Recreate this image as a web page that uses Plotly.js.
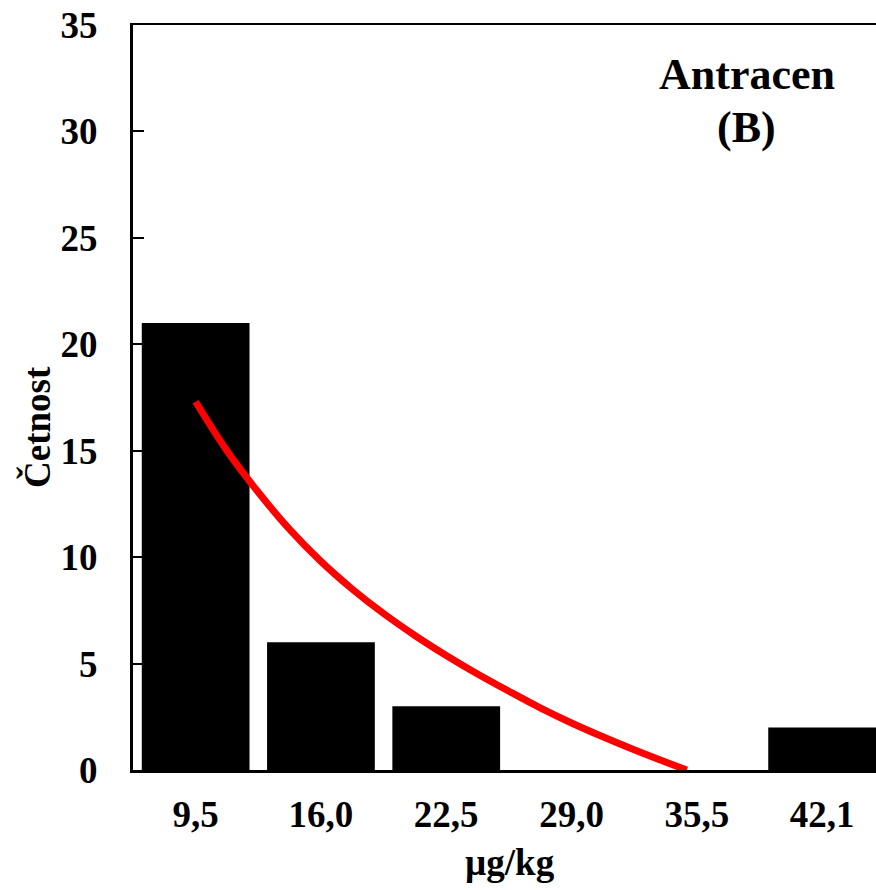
<!DOCTYPE html>
<html>
<head>
<meta charset="utf-8">
<script src="https://cdn.plot.ly/plotly-3.0.1.min.js"></script>
<style>html,body{margin:0;padding:0;background:#fff;overflow:hidden}</style>
</head>
<body>
<div id="chart" style="width:876px;height:890px"></div>
<script>
// Histogram categories (bin centres, µg/kg) and counts
const binLabels = ["9,5", "16,0", "22,5", "29,0", "35,5", "42,1"];
const counts = [21, 6, 3, 0, 0, 2];
// Fitted curve (x in bin-index units, y = frequency)
const curveX = [0, 0.25, 0.5, 0.75, 1.0, 1.25, 1.5, 1.75, 2.0, 2.25, 2.5, 2.75, 3.0, 3.25, 3.5, 3.75, 3.92];
const curveY = [17.30, 15.00, 13.05, 11.30, 9.80, 8.50, 7.35, 6.32, 5.38, 4.51, 3.70, 2.92, 2.21, 1.56, 0.95, 0.375, 0.0];

const binIdx = binLabels.map((_, i) => i);
const font = "Liberation Serif, Times New Roman, serif";

const traces = [
  {
    type: "bar",
    x: binIdx,
    y: counts,
    width: 0.86,
    marker: {color: "#000000", line: {width: 0}},
    hoverinfo: "skip"
  },
  {
    type: "scatter",
    mode: "lines",
    x: curveX,
    y: curveY,
    line: {color: "#ff0000", width: 7, shape: "spline", smoothing: 1},
    hoverinfo: "skip"
  }
];

const layout = {
  width: 876,
  height: 890,
  margin: {l: 133, r: 0, t: 25, b: 120},
  paper_bgcolor: "#fff",
  plot_bgcolor: "#fff",
  showlegend: false,
  font: {family: font, color: "#000", size: 37, weight: "bold"},
  xaxis: {
    range: [-0.5, 5.43],
    tickvals: binIdx,
    ticktext: binLabels,
    ticks: "",
    showgrid: false,
    zeroline: false,
    showline: true,
    linecolor: "#000",
    linewidth: 2.5,
    mirror: true,
    ticklabelstandoff: 10,
    tickfont: {family: font, size: 37, color: "#000", weight: "bold"}
  },
  yaxis: {
    range: [0, 35],
    tick0: 0,
    dtick: 5,
    ticks: "inside",
    ticklen: 11,
    tickwidth: 2,
    tickcolor: "#000",
    showgrid: false,
    zeroline: false,
    showline: true,
    linecolor: "#000",
    linewidth: 3,
    mirror: false,
    ticklabelstandoff: 25,
    tickfont: {family: font, size: 37, color: "#000", weight: "bold"}
  },
  annotations: [
    {text: "Antracen", xref: "paper", yref: "paper", x: 0.826, y: (770 - 74) / 745,
     xanchor: "center", yanchor: "middle", showarrow: false,
     font: {family: font, size: 44, color: "#000", weight: "bold"}},
    {text: "(B)", xref: "paper", yref: "paper", x: 0.826, y: (770 - 128) / 745,
     xanchor: "center", yanchor: "middle", showarrow: false,
     font: {family: font, size: 44, color: "#000", weight: "bold"}},
    {text: "Četnost", xref: "paper", yref: "paper", x: (37 - 133) / 743, y: (770 - 427) / 745,
     xanchor: "center", yanchor: "middle", textangle: -90, showarrow: false,
     font: {family: font, size: 37, color: "#000", weight: "bold"}},
    {text: "µg/kg", xref: "paper", yref: "paper", x: (510 - 133) / 743, y: (770 - 862) / 745,
     xanchor: "center", yanchor: "middle", showarrow: false,
     font: {family: font, size: 37, color: "#000", weight: "bold"}}
  ]
};

Plotly.newPlot("chart", traces, layout, {displayModeBar: false, staticPlot: true});
</script>
</body>
</html>
